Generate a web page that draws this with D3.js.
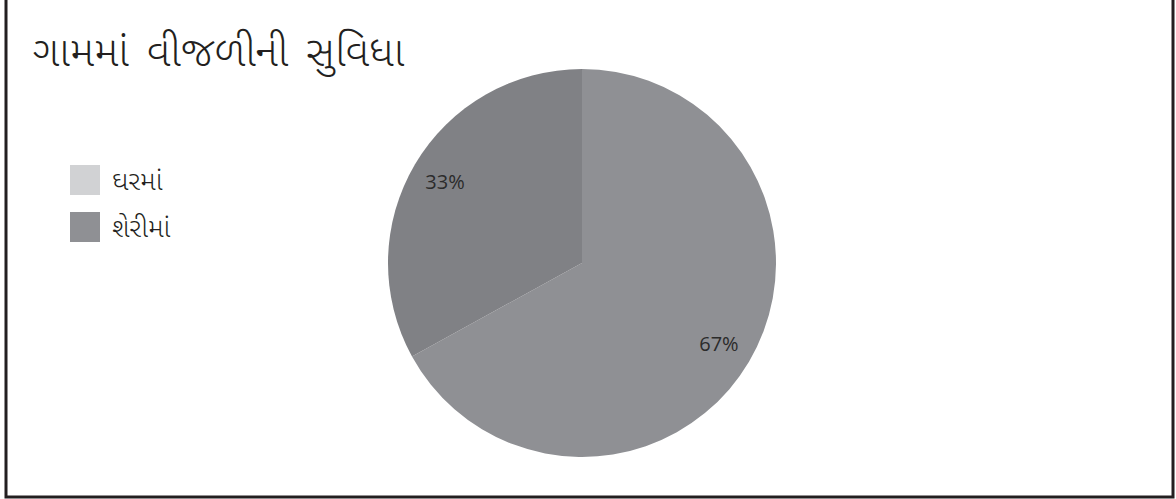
<!DOCTYPE html>
<head>
    <meta charset="utf-8">
    <script src="https://d3js.org/d3.v7.min.js"></script>
    <style>
        body { margin: 0; background: white; }
        .title { font: 300 42px "Noto Sans Gujarati", "Lohit Gujarati", "Noto Sans", sans-serif; fill: #231f20; word-spacing: 7px; }
        .legend text { font: 300 27px "Noto Sans Gujarati", "Lohit Gujarati", "Noto Sans", sans-serif; fill: #231f20; }
        .lbl { font: 20px "Open Sans", "Noto Sans", sans-serif; fill: #2b2b2b; text-anchor: middle; }
    </style>
</head>
<body>
    <svg width="1176" height="499"></svg>
</body>
<script>
    var title = "ગામમાં વીજળીની સુવિધા"
    var categories = ["ઘરમાં", "શેરીમાં"]
    var values = [67, 33]
    var sliceColors = ["#8f9094", "#808185"]
    var legendColors = ["#d1d2d4", "#8f9094"]

    var svg = d3.select("svg")

    // frame (top edge is cut off in the original)
    svg.append("rect")
        .attr("x", 6).attr("y", -10)
        .attr("width", 1167).attr("height", 507)
        .attr("fill", "none")
        .attr("stroke", "#231f20")
        .attr("stroke-width", 3)

    svg.append("text")
        .attr("class", "title")
        .attr("x", 33).attr("y", 66)
        .text(title)

    var legend = svg.append("g").attr("class", "legend")
        .selectAll("g")
        .data(categories)
        .enter().append("g")
        .attr("transform", (d, i) => "translate(70," + (165 + i * 47) + ")")

    legend.append("rect")
        .attr("width", 30).attr("height", 30)
        .attr("fill", (d, i) => legendColors[i])

    legend.append("text")
        .attr("x", 42).attr("y", 25)
        .text(d => d)

    var radius = 194
    var pie = d3.pie().sort(null)
    var arc = d3.arc().innerRadius(0).outerRadius(radius)
    var labelArc = d3.arc().innerRadius(radius * 0.82).outerRadius(radius * 0.82)

    var g = svg.append("g").attr("transform", "translate(582,263)")
    var arcs = pie(values)

    g.selectAll("path")
        .data(arcs)
        .enter().append("path")
        .attr("d", arc)
        .attr("fill", (d, i) => sliceColors[i])

    g.selectAll(".lbl")
        .data(arcs)
        .enter().append("text")
        .attr("class", "lbl")
        .attr("transform", d => "translate(" + labelArc.centroid(d) + ")")
        .attr("dy", "0.35em")
        .text(d => d.value + "%")
</script>
